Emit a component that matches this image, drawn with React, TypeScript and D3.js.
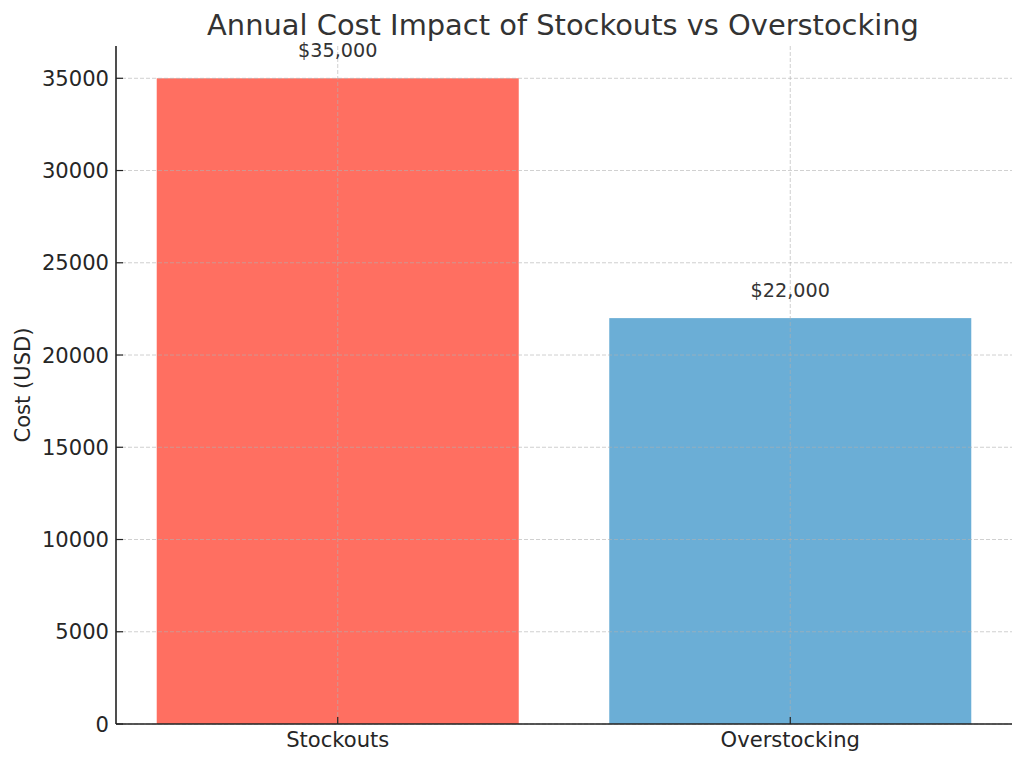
import React from "react";
import * as d3 from "d3";

const categories: string[] = ["Stockouts", "Overstocking"];
const costs: number[] = [35000, 22000];
const barColors: string[] = ["#FF6F61", "#6BAED6"];
const yTicks: number[] = [0, 5000, 10000, 15000, 20000, 25000, 30000, 35000];
const title = "Annual Cost Impact of Stockouts vs Overstocking";
const yLabel = "Cost (USD)";

const W = 1024;
const H = 765;
const left = 116;
const right = 1012;
const top = 46;
const bottom = 724;
const font = "'DejaVu Sans', sans-serif";

export default function App() {
  const x = d3.scaleLinear().domain([-0.49, 1.49]).range([left, right]);
  const y = d3.scaleLinear().domain([0, 36750]).range([bottom, top]);
  const bw = x(0.4) - x(-0.4);
  const fmt = d3.format(",.0f");

  return (
    <svg
      width={W}
      height={H}
      style={{ position: "absolute", left: 0, top: 0 }}
      fontFamily={font}
    >
      <rect x={0} y={0} width={W} height={H} fill="#fff" />
      {categories.map((c, i) => (
        <rect
          key={c}
          x={x(i) - bw / 2}
          y={y(costs[i])}
          width={bw}
          height={bottom - y(costs[i])}
          fill={barColors[i]}
        />
      ))}
      {/* grid */}
      <g stroke="#b0b0b0" strokeOpacity={0.6} strokeWidth={1} strokeDasharray="4,2">
        {yTicks.map((t) => (
          <line key={"h" + t} x1={left} x2={right} y1={y(t)} y2={y(t)} />
        ))}
        {categories.map((c, i) => (
          <line key={"v" + c} x1={x(i)} x2={x(i)} y1={top} y2={bottom} />
        ))}
      </g>
      {/* spines */}
      <line x1={left} x2={left} y1={top} y2={bottom} stroke="#222" strokeWidth={1.6} />
      <line x1={left} x2={right} y1={bottom} y2={bottom} stroke="#222" strokeWidth={1.6} />
      {/* y ticks */}
      {yTicks.map((t) => (
        <g key={"yt" + t}>
          <line x1={left} x2={left + 7} y1={y(t)} y2={y(t)} stroke="#222" strokeWidth={1.2} />
          <text
            x={left - 7}
            y={y(t)}
            dy="0.36em"
            textAnchor="end"
            fontSize={21.1}
            fill="#262626"
          >
            {t}
          </text>
        </g>
      ))}
      {/* x ticks */}
      {categories.map((c, i) => (
        <g key={"xt" + c}>
          <line x1={x(i)} x2={x(i)} y1={bottom} y2={bottom - 7} stroke="#222" strokeWidth={1.2} />
          <text x={x(i)} y={747} textAnchor="middle" fontSize={21.1} fill="#262626">
            {c}
          </text>
        </g>
      ))}
      {/* annotations */}
      {categories.map((c, i) => (
        <text
          key={"a" + c}
          x={x(i)}
          y={y(costs[i]) - 21.5}
          textAnchor="middle"
          fontSize={19.2}
          fill="#333"
        >
          {"$" + fmt(costs[i])}
        </text>
      ))}
      <text
        transform={`translate(30, ${(top + bottom) / 2}) rotate(-90)`}
        textAnchor="middle"
        fontSize={21.1}
        fill="#262626"
      >
        {yLabel}
      </text>
      <text x={(left + right) / 2 - 1} y={35} textAnchor="middle" fontSize={28.9} fill="#333">
        {title}
      </text>
    </svg>
  );
}
